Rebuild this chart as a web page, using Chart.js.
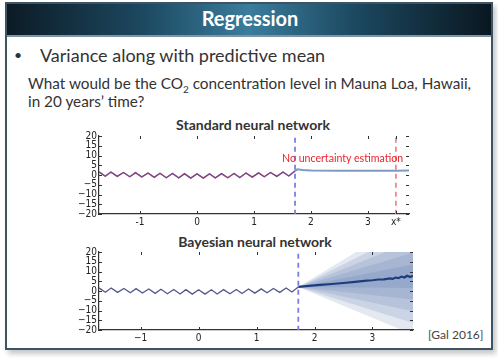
<!DOCTYPE html>
<html><head><meta charset="utf-8">
<script src="https://cdn.jsdelivr.net/npm/chart.js@4.4.0/dist/chart.umd.min.js"></script>
<style>
body{margin:0;width:498px;height:358px;background:#fff;overflow:hidden;position:relative;font-family:Lato,'Open Sans',sans-serif;}
#frame{position:absolute;left:5px;top:2px;width:488px;height:348px;box-sizing:border-box;border:2px solid #3d5465;box-shadow:3px 4px 5px rgba(0,0,0,0.22);background:#fff;}
#header{position:absolute;left:0;top:0;right:0;height:31px;background:linear-gradient(to right,#0c1b25 0%,#1c4860 28%,#3b7d9c 50%,#1c4860 72%,#0a1720 100%);border-bottom:2px solid #7f95a6;}
.t{position:absolute;white-space:nowrap;color:#333;}
.c{position:absolute;}
</style></head><body>
<div id="frame"><div id="header"></div></div>
<div class="t" style="left:0;width:500px;text-align:center;top:6px;font-weight:700;font-size:20px;line-height:24px;color:#fff;">Regression</div>
<div class="t" style="left:14px;top:44px;font-size:14px;line-height:22px;">•</div>
<div class="t" style="left:40px;top:43px;font-size:18px;line-height:24px;">Variance along with predictive mean</div>
<div class="t" style="left:28px;top:74px;font-size:15.3px;line-height:18px;">What would be the CO<sub style="font-size:10px;line-height:0;">2</sub> concentration level in Mauna Loa, Hawaii,<br>in 20 years’ time?</div>
<div class="t" style="left:153px;width:200px;text-align:center;top:116.5px;font-weight:700;font-size:14px;line-height:16px;">Standard neural network</div>
<div class="t" style="left:155px;width:200px;text-align:center;top:233.5px;font-weight:700;font-size:14px;line-height:16px;">Bayesian neural network</div>
<div class="c" style="left:60px;top:128px;"><canvas id="c1" width="360" height="100"></canvas></div>
<div class="c" style="left:60px;top:244px;"><canvas id="c2" width="364" height="100"></canvas></div>
<div class="t" style="left:282px;top:151.5px;font-size:10.6px;line-height:12px;color:#e8232b;">No uncertainty estimation</div>
<div class="t" style="left:428px;top:328px;font-size:12px;line-height:14px;color:#444;">[Gal 2016]</div>
<script>
// ---- data ----
const obsX = [-1.72,-1.61,-1.51,-1.40,-1.29,-1.18,-1.08,-0.97,-0.86,-0.75,-0.65,-0.54,-0.43,-0.32,-0.22,-0.11,0.00,0.11,0.22,0.32,0.43,0.54,0.65,0.75,0.86,0.97,1.08,1.18,1.29,1.40,1.51,1.61,1.72];
const obsY = [1.6,-0.6,1.5,-0.7,1.3,-0.9,1.2,-1.0,1.0,-1.2,0.9,-1.4,0.8,-1.5,0.7,-1.6,0.6,-1.6,0.6,-1.5,0.7,-1.4,0.8,-1.3,1.0,-1.1,1.1,-0.9,1.3,-0.7,1.5,-0.5,2.1];
const predX1 = [1.72,1.76,1.85,2.0,2.5,3.0,3.5,3.72];
const predY1 = [2.1,2.9,2.6,2.3,2.2,2.2,2.2,2.3];
const meanX2 = [1.72,1.9,2.1,2.3,2.5,2.7,2.9,3.0,3.1,3.2,3.3,3.35,3.4,3.45,3.5,3.55,3.6,3.65,3.7];
const meanY2 = [2.1,2.6,3.1,3.6,4.1,4.7,5.3,5.5,5.9,6.0,6.5,6.2,6.9,6.6,7.4,6.9,7.8,7.2,7.8];
const bandX = [1.72,3.7];
const bandMid = [2.1,7.6];
const bandHalf = [[0,6],[0,12],[0,18],[0,24],[0,30]];
const dashX = 1.72;
const xStarX = 3.49;
const xTickVals = [-1,0,1,2,3];
const yMin = -20, yMax = 20, yStep = 5;

const pts = (xs, ys) => xs.map((x, i) => ({x, y: ys[i]}));
const vline = (x) => [{x, y: yMin - 5}, {x, y: yMax + 5}];

const innerTicks = {id:'innerTicks', afterDraw(chart){
  const {ctx, chartArea:a, scales:{x, y}} = chart;
  ctx.save(); ctx.strokeStyle='#333'; ctx.lineWidth=1; ctx.beginPath();
  y.ticks.forEach(t=>{const p=Math.round(y.getPixelForValue(t.value))+0.5;
    ctx.moveTo(a.left,p);ctx.lineTo(a.left+3,p);ctx.moveTo(a.right,p);ctx.lineTo(a.right-3,p);});
  x.ticks.forEach(t=>{const p=Math.round(x.getPixelForValue(t.value))+0.5;
    ctx.moveTo(p,a.top);ctx.lineTo(p,a.top+3);ctx.moveTo(p,a.bottom);ctx.lineTo(p,a.bottom-3);});
  ctx.stroke(); ctx.restore();}};

const tickFont = {family:"'DejaVu Sans Condensed','Liberation Sans Narrow','Liberation Sans',sans-serif", size:10, lineHeight:1};

function makeOpts(xmax, useMinus, withStar){
  return {
    responsive:false, animation:false, devicePixelRatio:1,
    layout:{padding:{top:8, right:11, left:0, bottom:0}},
    plugins:{legend:{display:false}, tooltip:{enabled:false}},
    elements:{point:{radius:0}},
    scales:{
      x:{type:'linear', min:-1.72, max:xmax,
        afterBuildTicks:s=>{ s.ticks = xTickVals.map(v=>({value:v})); if(withStar) s.ticks.push({value:xStarX}); },
        afterFit:s=>{s.height=14;},
        grid:{display:false, drawTicks:false},
        border:{display:true, color:'#333', width:1.2},
        ticks:{padding:3, color:'#222', font:tickFont, maxRotation:0, autoSkip:false,
          callback:v=> (withStar && v===xStarX) ? 'x*' : (useMinus ? String(v).replace('-','\u2212') : String(v))}},
      y:{type:'linear', min:yMin, max:yMax,
        afterFit:s=>{s.width=39;},
        grid:{display:false, drawTicks:false},
        border:{display:true, color:'#333', width:1.2},
        ticks:{stepSize:yStep, padding:2, color:'#222', font:tickFont, autoSkip:false,
          callback:v=>String(v).replace('-','\u2212')}}
    }
  };
}

// chart 1
new Chart(document.getElementById('c1'), {
  type:'line',
  data:{datasets:[
    {data:vline(dashX), borderColor:'#7d7de8', borderWidth:1.8, borderDash:[5,4]},
    {data:vline(xStarX), borderColor:'#ee8a8a', borderWidth:1.8, borderDash:[5,4]},
    {data:pts(obsX, obsY), borderColor:'rgba(85,80,165,0.7)', borderWidth:1.4},
    {data:pts(obsX, obsY), borderColor:'rgba(200,35,55,0.9)', borderWidth:1.3},
    {data:pts(predX1, predY1), borderColor:'#8099c4', borderWidth:2}
  ]},
  options:makeOpts(3.72, false, true),
  plugins:[innerTicks]
});

// chart 2
const ds2 = [
  {data:vline(dashX), borderColor:'#7d7de8', borderWidth:1.8, borderDash:[5,4]},
  {data:pts(meanX2, meanY2), borderColor:'#1f3b80', borderWidth:2.2},
  {data:pts(obsX, obsY), borderColor:'#56578e', borderWidth:1.3}
];
bandHalf.forEach(h=>{
  ds2.push({data:pts(bandX, bandMid.map((m,i)=>m+h[i])), borderWidth:0, fill:'+1', backgroundColor:'rgba(65,100,160,0.15)'});
  ds2.push({data:pts(bandX, bandMid.map((m,i)=>m-h[i])), borderWidth:0, fill:false});
});
new Chart(document.getElementById('c2'), {
  type:'line',
  data:{datasets:ds2},
  options:makeOpts(3.7, true, false),
  plugins:[innerTicks]
});
</script>
</body></html>
